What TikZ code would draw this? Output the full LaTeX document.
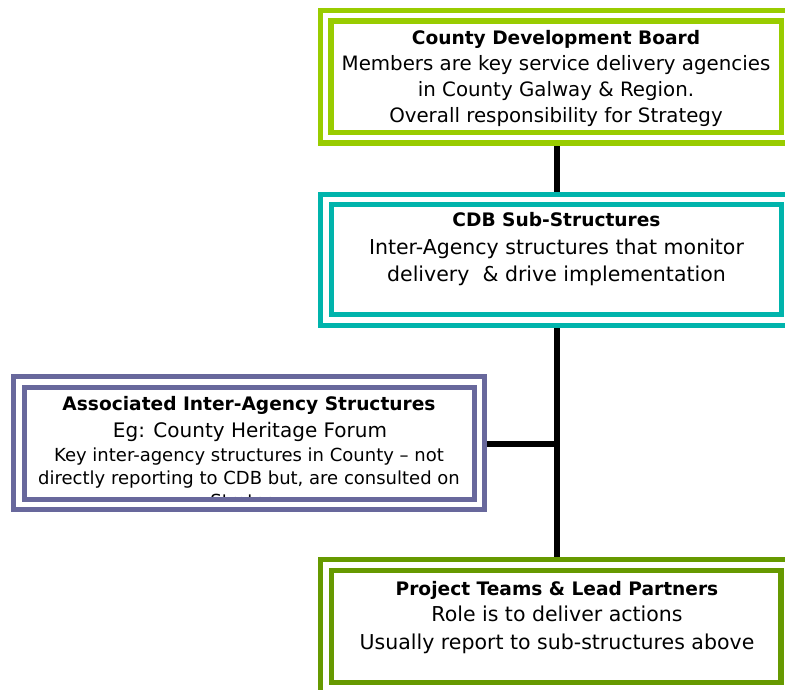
\documentclass[tikz,border=0pt]{standalone}
\usepackage{fontspec}
\setmainfont{DejaVu Sans}
\definecolor{gA}{RGB}{153,204,0}
\definecolor{tealB}{RGB}{0,180,172}
\definecolor{purC}{RGB}{104,104,156}
\definecolor{gD}{RGB}{102,153,0}
\begin{document}
\begin{tikzpicture}[x=1pt,y=-1pt,
  frame/.style={line width=5.5pt, line join=miter},
  conn/.style={line width=6pt, black},
  txt/.style={anchor=base, inner sep=0pt, font=\fontsize{19.8}{24}\selectfont},
  txtb/.style={anchor=base, inner sep=0pt, font=\fontsize{20.5}{24}\selectfont},
  ttl/.style={anchor=base, inner sep=0pt, font=\fontsize{18.6}{24}\selectfont\bfseries},
  mid/.style={anchor=base, inner sep=0pt, font=\fontsize{20}{22}\selectfont},
  small/.style={anchor=base, inner sep=0pt, font=\fontsize{18}{20}\selectfont}]
\useasboundingbox (0,0) rectangle (785,690);
\clip (0,0) rectangle (785,690);
\fill[white] (0,0) rectangle (785,690);
% connector anchor points
\coordinate (b1s) at (556.5,145.5);
\coordinate (b4n) at (556.5,557);
\coordinate (b3e) at (487,443.5);
\coordinate (junc) at (556.5,443.5);
\draw[conn] (b1s) -- (b4n);
\draw[conn] (b3e) -- (junc);
% Box 1
\draw[frame, gA, fill=white] (320.5,10.5) rectangle (800,143);
\draw[frame, gA] (331,21) rectangle (781.5,132.5);
\node[ttl] (t1) at (556,44.5) {County Development Board};
\node[txt] (t1b) at (556,70.5) {Members are key service delivery agencies};
\node[txt] (t1c) at (556,96.5) {in County Galway \& Region.};
\node[txt] (t1d) at (556,122.5) {Overall responsibility for Strategy};
% Box 2
\draw[frame, tealB, fill=white] (320.5,194.5) rectangle (800,325.5);
\draw[frame, tealB] (331.5,204.5) rectangle (781.5,314.5);
\node[ttl] (t2) at (556.5,226.7) {CDB Sub-Structures};
\node[txtb] (t2b) at (556.5,254) {Inter-Agency structures that monitor};
\node[txtb] (t2c) at (556.5,281.7) {delivery\ \ \& drive implementation};
% Box 3
\draw[frame, purC, fill=white] (13.5,376.5) rectangle (484.5,509.5);
\begin{scope}
\clip (27.25,390.25) rectangle (471.75,496.75);
\node[ttl] (t3) at (249,410) {Associated Inter-Agency Structures};
\node[mid] (t3b) at (250,437.7) {Eg: County Heritage Forum};
\node[small] (t3c) at (249,461.7) {Key inter-agency structures in County – not};
\node[small] (t3d) at (249,484) {directly reporting to CDB but, are consulted on};
\node[small] (t3e) at (249,507) {Strategy};
\end{scope}
\draw[frame, purC] (24.5,387.5) rectangle (474.5,499.5);
% Box 4
\draw[frame, gD, fill=white] (320.5,559.5) rectangle (800,720);
\draw[frame, gD] (331.5,570.5) rectangle (781,682.5);
\node[ttl] (t4) at (557,595) {Project Teams \& Lead Partners};
\node[txtb] (t4b) at (557,621.7) {Role is to deliver actions};
\node[txtb] (t4c) at (557,649.3) {Usually report to sub-structures above};
\end{tikzpicture}
\end{document}
